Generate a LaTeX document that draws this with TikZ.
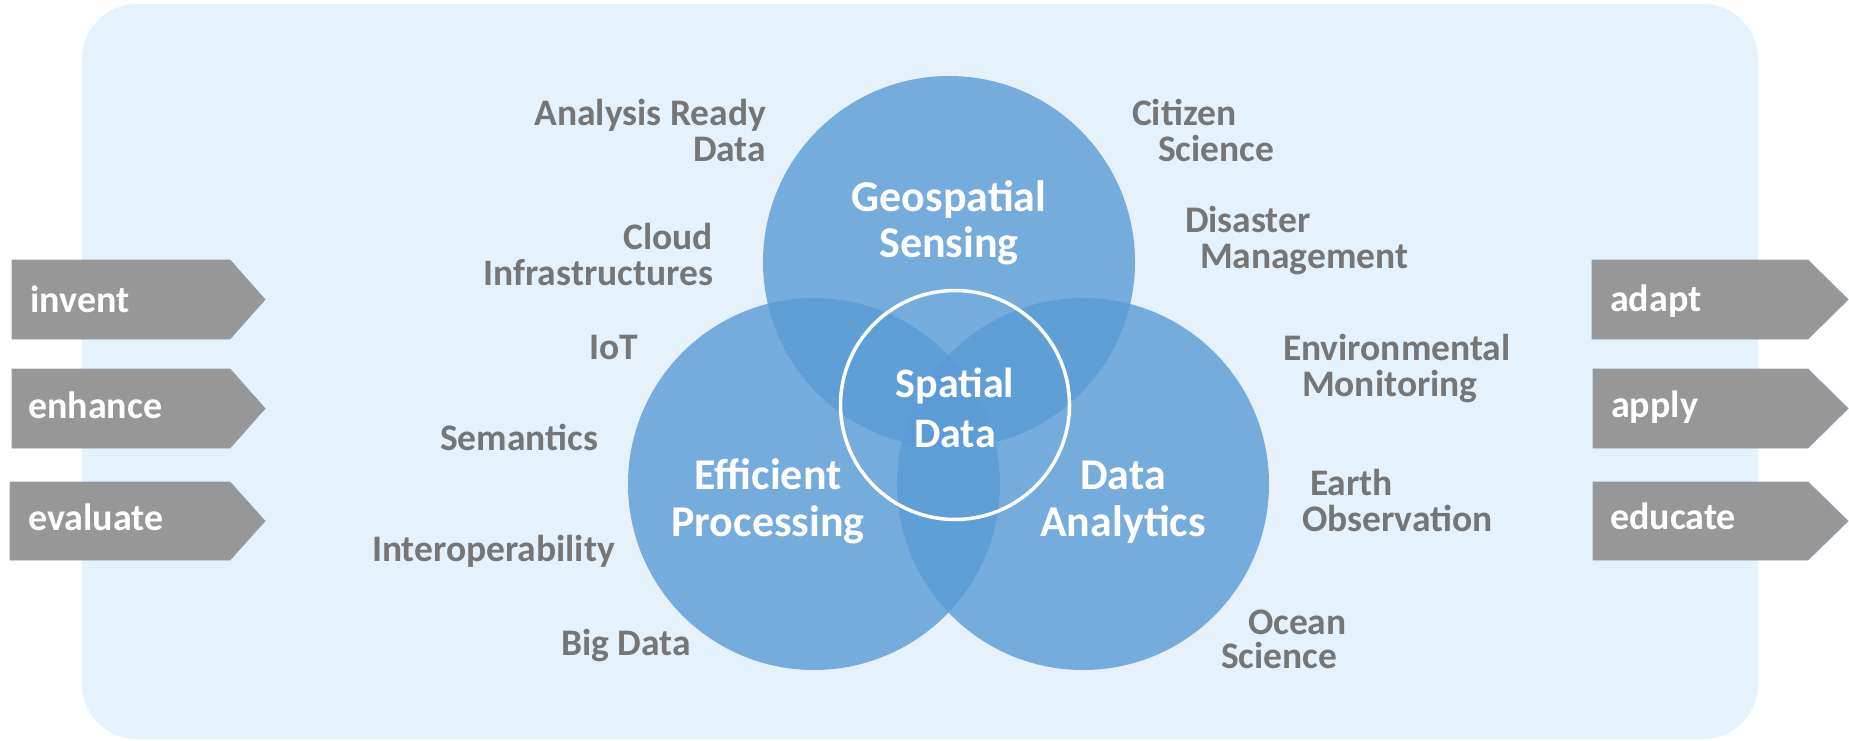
\documentclass[tikz,border=0pt]{standalone}
\usepackage{fontspec}
\setmainfont{Carlito}
\definecolor{bgblue}{HTML}{E5F1FB}
\definecolor{circblue}{HTML}{5B9BD5}
\definecolor{labelgray}{HTML}{767676}
\definecolor{arrowgray}{HTML}{979797}
\definecolor{arrowedge}{HTML}{8E9FB0}
\newcommand\stackL[1]{\vtop{\lineskiplimit=-100pt\halign{##\hfil\cr#1\crcr}}}
\newcommand\stackR[1]{\vtop{\lineskiplimit=-100pt\halign{\hfil##\cr#1\crcr}}}
\newcommand\stackC[1]{\vtop{\lineskiplimit=-100pt\halign{\hfil##\hfil\cr#1\crcr}}}
\tikzset{
  lbl/.style={text=labelgray, font=\fontsize{37.5}{36}\selectfont\bfseries, inner sep=0pt, outer sep=0pt},
  ttl/.style={text=white, font=\fontsize{44}{46}\selectfont\bfseries, inner sep=0pt, outer sep=0pt, anchor=base},
  venn/.style={circle, fill=circblue, fill opacity=0.8, minimum size=372pt, inner sep=0pt, outer sep=0pt},
  arrowshape/.style={fill=arrowgray, draw=arrowedge, line width=0.8pt},
  arrowtxt/.style={text=white, font=\fontsize{38}{38}\selectfont\bfseries, inner sep=0pt, anchor=base west},
}
\begin{document}
\begin{tikzpicture}[x=1pt,y=-1pt]
\useasboundingbox (0,0) rectangle (1849,741);
% background panel
\fill[bgblue, rounded corners=55pt] (82,4) rectangle (1758,739);
% Venn circles
\node[venn] (geo) at (949,262) {};
\node[venn] (eff) at (814,484) {};
\node[venn] (ana) at (1083,484) {};
\node[circle, draw=white, line width=3.5pt, minimum size=229pt, inner sep=0pt] (core) at (955,405) {};
% circle titles
\node[ttl] (geot) at (949,211) {\stackC{Geospatial\cr Sensing}};
\node[ttl, font=\fontsize{42}{50}\selectfont\bfseries] (coret) at (955,397) {\stackC{Spatial\cr Data}};
\node[ttl, font=\fontsize{44}{47}\selectfont\bfseries] (efft) at (768,489) {\stackC{Efficient\cr Processing}};
\node[ttl, font=\fontsize{44}{47}\selectfont\bfseries] (anat) at (1123,489) {\stackC{Data\cr Analytics}};
% left labels
\node[lbl, anchor=base east] (ard) at (766,125) {\stackR{Analysis Ready\cr Data}};
\node[lbl, anchor=base east] (cloud) at (713,249) {\stackR{Cloud\cr Infrastructures}};
\node[lbl, anchor=base east] (iot) at (638,359) {IoT};
\node[lbl, anchor=base east] (sem) at (598,450) {Semantics};
\node[lbl, anchor=base west] (interop) at (372,561) {Interoperability};
\node[lbl, anchor=base west] (big) at (561,655) {Big Data};
% right labels
\node[lbl, anchor=base west] (cit) at (1132,125) {\stackL{Citizen\cr\kern26pt Science}};
\node[lbl, anchor=base west] (dis) at (1185,232) {\stackL{Disaster\cr\kern15pt Management}};
\node[lbl, anchor=base west] (env) at (1283,360) {\stackL{Environmental\cr\kern19pt Monitoring}};
\node[lbl, anchor=base west] (earth) at (1302,495) {\stackL{\kern8pt Earth\cr Observation}};
\node[lbl, anchor=base west, font=\fontsize{37.5}{34}\selectfont\bfseries] (ocean) at (1221,634) {\stackL{\kern27pt Ocean\cr Science}};
% left arrows
\draw[arrowshape] (12,260) -- (230,260) -- (265,299.5) -- (230,339) -- (12,339) -- cycle;
\draw[arrowshape] (12,369) -- (230,369) -- (265,408.5) -- (230,448) -- (12,448) -- cycle;
\draw[arrowshape] (10,482) -- (230,482) -- (265,521) -- (230,560) -- (10,560) -- cycle;
\node[arrowtxt] (invent) at (30,312) {invent};
\node[arrowtxt] (enhance) at (28,418) {enhance};
\node[arrowtxt] (evaluate) at (28,530) {evaluate};
% right arrows
\draw[arrowshape] (1592,260) -- (1808,260) -- (1848,299.5) -- (1808,339) -- (1592,339) -- cycle;
\draw[arrowshape] (1593,369) -- (1808,369) -- (1848,408.5) -- (1808,448) -- (1593,448) -- cycle;
\draw[arrowshape] (1593,482) -- (1808,482) -- (1848,521) -- (1808,560) -- (1593,560) -- cycle;
\node[arrowtxt] (adapt) at (1610,311) {adapt};
\node[arrowtxt] (apply) at (1611,417) {apply};
\node[arrowtxt] (educate) at (1610,529) {educate};
\end{tikzpicture}
\end{document}
